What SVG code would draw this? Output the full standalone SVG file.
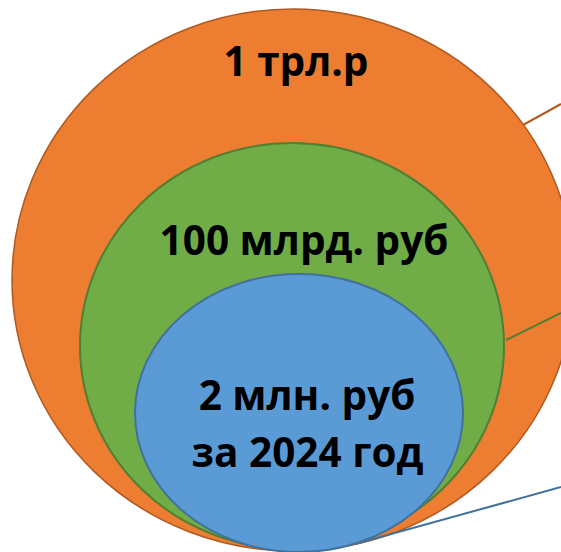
<svg xmlns="http://www.w3.org/2000/svg" width="561" height="552" viewBox="0 0 561 552">
<style>
.lbl{font-family:"Open Sans","Liberation Sans",sans-serif;font-weight:bold;font-size:40.5px;fill:#000;text-anchor:middle}
.conn{fill:none;stroke-width:2}
</style>
<rect width="561" height="552" fill="#fff"/>
<g id="node-outer">
<ellipse cx="293" cy="280" rx="281" ry="271" fill="#ED7D31" stroke="#AE5A21" stroke-width="1.5"/>
</g>
<g id="node-middle">
<ellipse cx="292" cy="346" rx="212" ry="203" fill="#70AD47" stroke="#507E32" stroke-width="2"/>
</g>
<g id="node-inner">
<ellipse cx="299" cy="413" rx="164" ry="139" fill="#5B9BD5" stroke="#41719C" stroke-width="2"/>
</g>
<g id="connectors">
<line class="conn" x1="523" y1="125" x2="561" y2="104" stroke="#AE5A21"/>
<line class="conn" x1="506" y1="340" x2="561" y2="313" stroke="#507E32"/>
<line class="conn" x1="355" y1="544" x2="561" y2="487" stroke="#41719C"/>
</g>
<g id="labels">
<text class="lbl" x="296" y="76">1 трл.р</text>
<text class="lbl" x="304" y="255">100 млрд. руб</text>
<text class="lbl" x="307" y="410">2 млн. руб</text>
<text class="lbl" x="307.5" y="467">за 2024 год</text>
</g>
</svg>
